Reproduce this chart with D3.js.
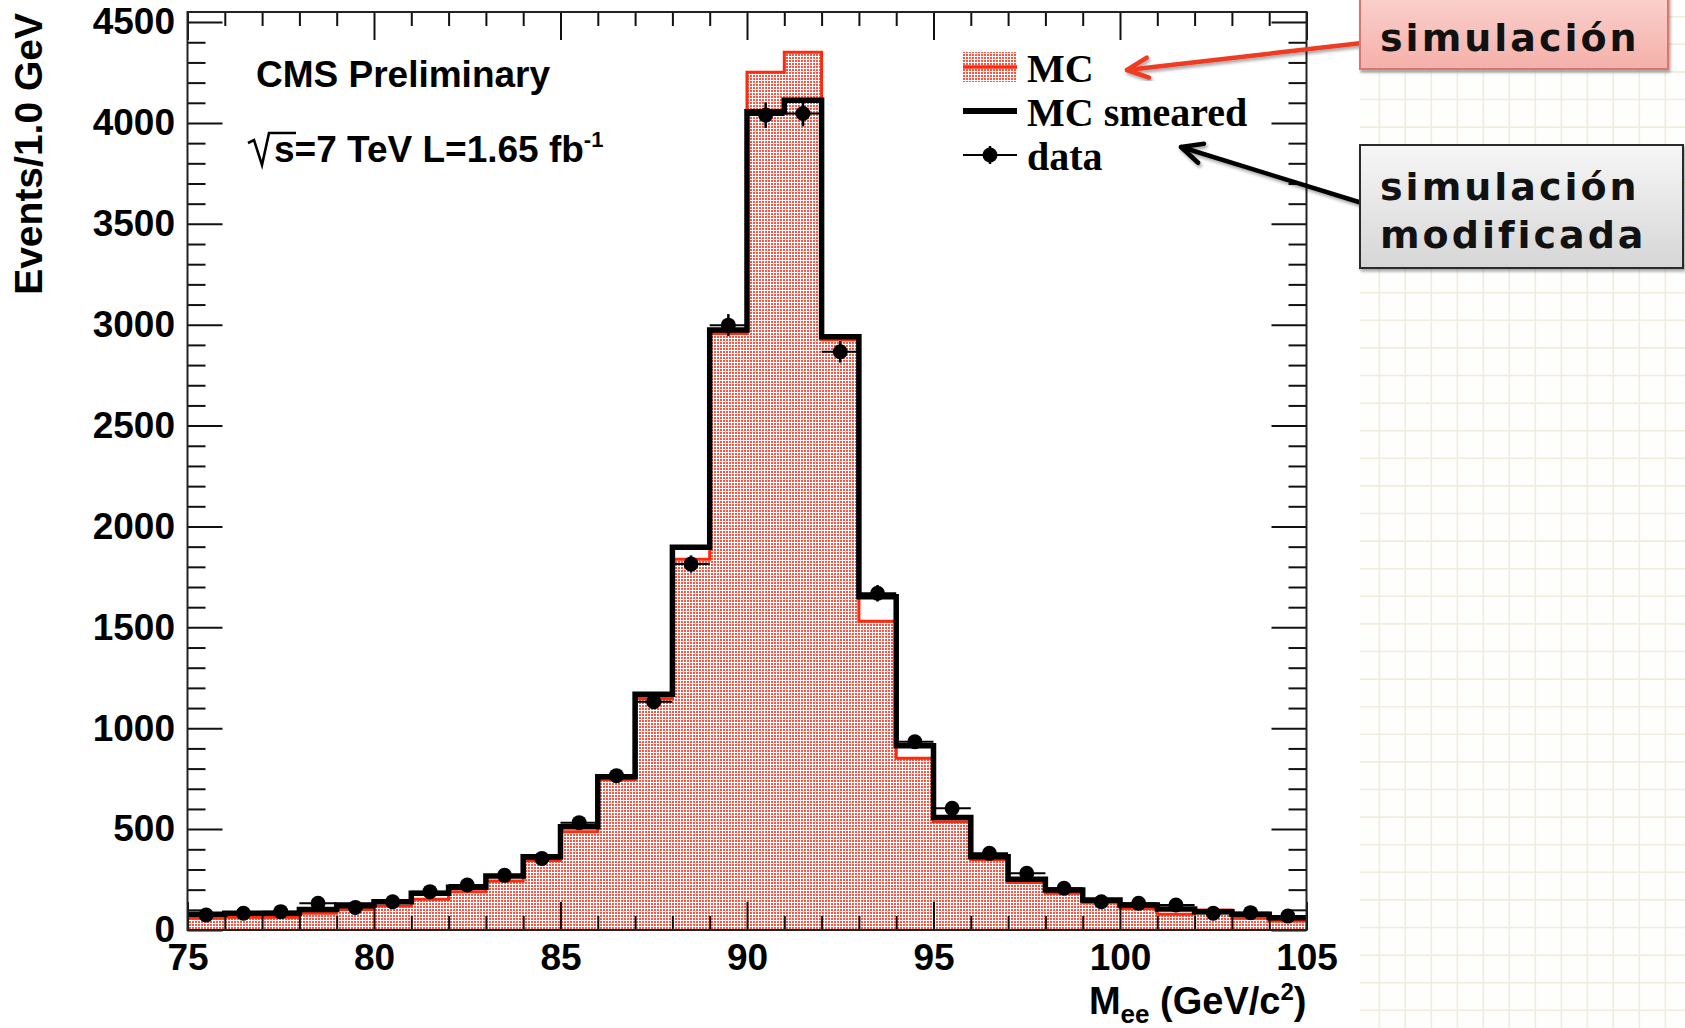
<!DOCTYPE html>
<html>
<head>
<meta charset="utf-8">
<script src="https://cdn.jsdelivr.net/npm/d3@7"></script>
<style>
  html, body { margin: 0; padding: 0; background: #fff; overflow: hidden; }
  svg { display: block; }
</style>
</head>
<body>
<svg id="chart" width="1685" height="1028"></svg>
<script>
// Z -> ee invariant mass, 1 GeV bins (lower bin edges)
const binLow = [75, 76, 77, 78, 79, 80, 81, 82, 83, 84, 85, 86, 87, 88, 89,
                90, 91, 92, 93, 94, 95, 96, 97, 98, 99, 100, 101, 102, 103, 104];

// Simulation (MC)
const mcCounts = [58, 63, 63, 83, 102, 119, 152, 190, 243, 344, 487, 745, 1148, 1837, 2957,
                  4251, 4350, 2925, 1530, 851, 537, 350, 235, 182, 135, 107, 78, 99, 58, 45];

// Simulation with extra energy smearing
const smearedCounts = [78, 83, 83, 102, 124, 140, 182, 212, 268, 363, 512, 760, 1168, 1897, 2974,
                       4055, 4113, 2941, 1652, 913, 558, 363, 251, 198, 149, 124, 104, 91, 78, 61];

// Recorded events
const dataCounts = [74, 83, 91, 132, 112, 140, 190, 223, 271, 355, 532, 765, 1131, 1814, 2998,
                    4039, 4047, 2866, 1669, 933, 603, 380, 281, 207, 140, 132, 124, 83, 86, 69];

const xTickValues = [75, 80, 85, 90, 95, 100, 105];
const yTickValues = [0, 500, 1000, 1500, 2000, 2500, 3000, 3500, 4000, 4500];
const legendLabels = ["MC", "MC smeared", "data"];
const calloutSim = ["simulación"];
const calloutSmeared = ["simulación", "modificada"];

const W = 1685, H = 1028;
const frame = { left: 187.5, right: 1306.5, top: 12, bottom: 930 };
const sansBold = "'Liberation Sans', Arial, Helvetica, sans-serif";
const serifBold = "'Liberation Serif', 'Times New Roman', serif";
const hand = "'DejaVu Sans', sans-serif";

const svg = d3.select("#chart");
const defs = svg.append("defs");

// dotted red fill
const pat = defs.append("pattern").attr("id", "mcDots")
  .attr("patternUnits", "userSpaceOnUse").attr("width", 3).attr("height", 3);
pat.append("rect").attr("width", 3).attr("height", 3).attr("fill", "#fff");
pat.append("rect").attr("width", 2).attr("height", 2).attr("fill", "#ff5444");

const gRed = defs.append("linearGradient").attr("id", "boxRed").attr("x1", 0).attr("y1", 0).attr("x2", 0).attr("y2", 1);
gRed.append("stop").attr("offset", 0).attr("stop-color", "#fbd3cf");
gRed.append("stop").attr("offset", 1).attr("stop-color", "#f5b0aa");
const gGrey = defs.append("linearGradient").attr("id", "boxGrey").attr("x1", 0).attr("y1", 0).attr("x2", 0).attr("y2", 1);
gGrey.append("stop").attr("offset", 0).attr("stop-color", "#f6f6f6");
gGrey.append("stop").attr("offset", 1).attr("stop-color", "#d6d6d6");

const shadow = defs.append("filter").attr("id", "shadow")
  .attr("x", "-10%").attr("y", "-30%").attr("width", "130%").attr("height", "170%");
shadow.append("feDropShadow").attr("dx", 1.5).attr("dy", 2.5).attr("stdDeviation", 1.8)
  .attr("flood-color", "#000").attr("flood-opacity", 0.35);

function arrowMarker(id, color) {
  defs.append("marker").attr("id", id)
    .attr("viewBox", "0 0 28 28").attr("refX", 3).attr("refY", 14)
    .attr("markerWidth", 28).attr("markerHeight", 28)
    .attr("markerUnits", "userSpaceOnUse").attr("orient", "auto")
    .append("path").attr("d", "M24,4 L3,14 L24,24")
    .attr("fill", "none").attr("stroke", color).attr("stroke-width", 4.5)
    .attr("stroke-linecap", "round").attr("stroke-linejoin", "round");
}
arrowMarker("arrowRed", "#ee3a22");
arrowMarker("arrowBlack", "#000");

// ---- graph-paper side panel ----
const paper = svg.append("g");
paper.append("rect").attr("x", 1360).attr("y", 0).attr("width", W - 1360).attr("height", H).attr("fill", "#fefefd");
paper.selectAll("line.v").data(d3.range(1379.3, W, 26)).join("line")
  .attr("x1", d => d).attr("x2", d => d).attr("y1", 0).attr("y2", H)
  .attr("stroke", "#f2ecdd").attr("stroke-width", 1.6);
paper.selectAll("line.h").data(d3.range(16.7, H, 27.6)).join("line")
  .attr("x1", 1360).attr("x2", W).attr("y1", d => d).attr("y2", d => d)
  .attr("stroke", "#f2ecdd").attr("stroke-width", 1.6);

// ---- scales ----
const x = d3.scaleLinear().domain([75, 105]).range([frame.left, frame.right]);
const y = d3.scaleLinear().domain([0, 4550]).range([frame.bottom, frame.top]);

const steps = counts => binLow.map((b, i) => [b, counts[i]])
  .concat([[binLow[binLow.length - 1] + 1, counts[counts.length - 1]]]);

const area = d3.area().x(d => x(d[0])).y0(y(0)).y1(d => y(d[1])).curve(d3.curveStepAfter);
const line = d3.line().x(d => x(d[0])).y(d => y(d[1])).curve(d3.curveStepAfter);

const plot = svg.append("g");

// MC: dotted fill with red outline
plot.append("path").datum(steps(mcCounts)).attr("d", area).attr("fill", "url(#mcDots)");
plot.append("path").datum(steps(mcCounts)).attr("d", line)
  .attr("fill", "none").attr("stroke", "#ff2a0c").attr("stroke-width", 3);

// ---- axes (ticks point inward, ROOT style) ----
const majorY = yTickValues;
const minorY = d3.range(0, 4550, 100).filter(v => v % 500 !== 0);
const minorX = d3.range(75, 106, 1).filter(v => v % 5 !== 0);

function styleAxis(g) {
  g.select(".domain").remove();
  g.selectAll(".tick line").attr("stroke", "#111").attr("stroke-width", 2);
  g.selectAll(".tick text").attr("fill", "#000")
    .style("font-family", sansBold).style("font-weight", "bold").style("font-size", "37px");
}

const axes = svg.append("g");
axes.append("g").attr("transform", `translate(0,${frame.bottom})`)
  .call(d3.axisBottom(x).tickValues(xTickValues).tickSize(-28).tickPadding(14).tickFormat(d3.format("d")))
  .call(styleAxis);
axes.append("g").attr("transform", `translate(0,${frame.bottom})`)
  .call(d3.axisBottom(x).tickValues(minorX).tickSize(-14).tickFormat(""))
  .call(styleAxis);
axes.append("g").attr("transform", `translate(0,${frame.top})`)
  .call(d3.axisTop(x).tickValues(xTickValues).tickSize(-28).tickFormat(""))
  .call(styleAxis);
axes.append("g").attr("transform", `translate(0,${frame.top})`)
  .call(d3.axisTop(x).tickValues(minorX).tickSize(-14).tickFormat(""))
  .call(styleAxis);
axes.append("g").attr("transform", `translate(${frame.left},0)`)
  .call(d3.axisLeft(y).tickValues(majorY).tickSize(-35).tickPadding(12.5).tickFormat(d3.format("d")))
  .call(styleAxis);
axes.append("g").attr("transform", `translate(${frame.left},0)`)
  .call(d3.axisLeft(y).tickValues(minorY).tickSize(-18).tickFormat(""))
  .call(styleAxis);
axes.append("g").attr("transform", `translate(${frame.right},0)`)
  .call(d3.axisRight(y).tickValues(majorY).tickSize(-35).tickFormat(""))
  .call(styleAxis);
axes.append("g").attr("transform", `translate(${frame.right},0)`)
  .call(d3.axisRight(y).tickValues(minorY).tickSize(-18).tickFormat(""))
  .call(styleAxis);

// smeared MC: thick black step line
svg.append("path").datum(steps(smearedCounts)).attr("d", line)
  .attr("fill", "none").attr("stroke", "#000").attr("stroke-width", 5.5)
  .attr("stroke-linejoin", "miter");

// data points with error bars
const pts = svg.append("g");
binLow.forEach((b, i) => {
  const n = dataCounts[i], cx = x(b + 0.5), cy = y(n), e = Math.sqrt(n);
  pts.append("line").attr("x1", x(b)).attr("x2", x(b + 1)).attr("y1", cy).attr("y2", cy)
    .attr("stroke", "#000").attr("stroke-width", 2);
  pts.append("line").attr("x1", cx).attr("x2", cx).attr("y1", y(n - e)).attr("y2", y(n + e))
    .attr("stroke", "#000").attr("stroke-width", 2.5);
  pts.append("circle").attr("cx", cx).attr("cy", cy).attr("r", 7.5).attr("fill", "#000");
});

// frame
svg.append("rect").attr("x", frame.left).attr("y", frame.top)
  .attr("width", frame.right - frame.left).attr("height", frame.bottom - frame.top)
  .attr("fill", "none").attr("stroke", "#222").attr("stroke-width", 2);

// ---- axis titles ----
svg.append("text").attr("transform", "translate(42,13) rotate(-90)")
  .attr("text-anchor", "end")
  .style("font-family", sansBold).style("font-weight", "bold").style("font-size", "39px")
  .text("Events/1.0 GeV");

const xt = svg.append("text").attr("x", frame.right).attr("y", 1014).attr("text-anchor", "end")
  .style("font-family", sansBold).style("font-weight", "bold").style("font-size", "38px");
xt.append("tspan").text("M");
xt.append("tspan").attr("dy", 9).style("font-size", "26px").text("ee");
xt.append("tspan").attr("dy", -9).text(" (GeV/c");
xt.append("tspan").attr("dy", -14).style("font-size", "24px").text("2");
xt.append("tspan").attr("dy", 14).text(")");

// ---- CMS labels ----
svg.append("text").attr("x", 256).attr("y", 87)
  .style("font-family", sansBold).style("font-weight", "bold").style("font-size", "37px")
  .text("CMS Preliminary");

svg.append("path").attr("d", "M248,143 L254,140 L262,165 L269,133 L296,133")
  .attr("fill", "none").attr("stroke", "#000").attr("stroke-width", 2.6).attr("stroke-linejoin", "miter");
const lumi = svg.append("text").attr("x", 274).attr("y", 162)
  .style("font-family", sansBold).style("font-weight", "bold").style("font-size", "37px");
lumi.append("tspan").text("s=7 TeV L=1.65 fb");
lumi.append("tspan").attr("dy", -15).style("font-size", "22px").text("-1");

// ---- legend ----
const legRows = [67, 111, 155];
const leg = svg.append("g");
leg.append("rect").attr("x", 963).attr("y", legRows[0] - 15).attr("width", 54).attr("height", 30)
  .attr("fill", "url(#mcDots)");
leg.append("line").attr("x1", 963).attr("x2", 1017).attr("y1", legRows[0]).attr("y2", legRows[0])
  .attr("stroke", "#ff2a0c").attr("stroke-width", 3.5);
leg.append("line").attr("x1", 963).attr("x2", 1017).attr("y1", legRows[1]).attr("y2", legRows[1])
  .attr("stroke", "#000").attr("stroke-width", 6);
leg.append("line").attr("x1", 963).attr("x2", 1017).attr("y1", legRows[2]).attr("y2", legRows[2])
  .attr("stroke", "#000").attr("stroke-width", 2);
leg.append("line").attr("x1", 990).attr("x2", 990).attr("y1", legRows[2] - 9).attr("y2", legRows[2] + 9)
  .attr("stroke", "#000").attr("stroke-width", 2.5);
leg.append("circle").attr("cx", 990).attr("cy", legRows[2]).attr("r", 7.5).attr("fill", "#000");
leg.selectAll("text.lg").data(legendLabels).join("text")
  .attr("x", 1027).attr("y", (d, i) => legRows[i] + 15)
  .style("font-family", serifBold).style("font-weight", "bold").style("font-size", "40px")
  .text(d => d);

// ---- callouts ----
const notes = svg.append("g");
notes.append("line").attr("x1", 1127).attr("y1", 70).attr("x2", 1362).attr("y2", 43)
  .attr("stroke", "#ee3a22").attr("stroke-width", 4.5).attr("stroke-linecap", "round")
  .attr("marker-start", "url(#arrowRed)").attr("filter", "url(#shadow)");
notes.append("line").attr("x1", 1181).attr("y1", 147).attr("x2", 1362).attr("y2", 203)
  .attr("stroke", "#000").attr("stroke-width", 4.5).attr("stroke-linecap", "round")
  .attr("marker-start", "url(#arrowBlack)").attr("filter", "url(#shadow)");

notes.append("rect").attr("x", 1360).attr("y", -10).attr("width", 308).attr("height", 79)
  .attr("fill", "url(#boxRed)").attr("stroke", "#d9776e").attr("stroke-width", 2)
  .attr("filter", "url(#shadow)");
notes.append("rect").attr("x", 1360).attr("y", 145).attr("width", 323).attr("height", 123)
  .attr("fill", "url(#boxGrey)").attr("stroke", "#2a2a2a").attr("stroke-width", 2)
  .attr("filter", "url(#shadow)");

notes.selectAll("text.top").data(calloutSim).join("text")
  .attr("x", 1380).attr("y", 51)
  .style("font-family", hand).style("font-weight", "bold").style("font-size", "38px")
  .style("letter-spacing", "3px")
  .attr("fill", "#111").text(d => d);
notes.selectAll("text.bot").data(calloutSmeared).join("text")
  .attr("x", 1380).attr("y", (d, i) => 200 + i * 48)
  .style("font-family", hand).style("font-weight", "bold").style("font-size", "38px")
  .style("letter-spacing", "3px")
  .attr("fill", "#111").text(d => d);
</script>
</body>
</html>
